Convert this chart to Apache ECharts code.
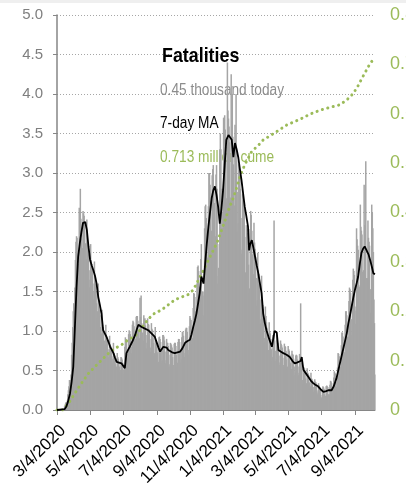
<!DOCTYPE html>
<html><head><meta charset="utf-8">
<script src="https://cdn.jsdelivr.net/npm/echarts@6/dist/echarts.min.js"></script>
<style>html,body{margin:0;padding:0;background:#fff}#c{width:406px;height:495px}</style>
</head><body><div id="c"></div>
<script>
// first day of the daily series (year, month, day)
const startDate = [2020, 3, 4];

// daily fatalities, thousands (one value per day, weeks start on Wednesday)
const daily = [
0,0,0,0,0,0,0.01,
0,0.01,0.01,0.01,0.01,0.01,0.02,
0.05,0.07,0.09,0.1,0.1,0.12,0.2,
0.25,0.3,0.38,0.38,0.35,0.45,0.7,
0.85,1.05,1.25,1.35,1.35,1.55,1.9,
2.13,2.2,2.18,1.98,1.73,1.85,2.56,
2.45,2.8,2.42,2.17,1.9,2.05,2.52,
2.49,2.46,2.36,2.11,1.81,1.91,2.41,
2.12,2.07,1.97,1.77,1.55,1.65,2.1,
1.9,1.85,1.78,1.6,1.4,1.5,1.88,
1.65,1.6,1.5,1.35,1.17,1.25,1.6,
1.32,1.27,1.2,1.05,0.92,0.97,1.27,
1.08,1.05,1.0,0.88,0.77,0.83,1.08,
0.94,0.92,0.88,0.77,0.67,0.72,0.94,
0.83,0.81,0.77,0.68,0.6,0.65,0.85,
0.72,0.69,0.66,0.58,0.5,0.55,0.72,
0.67,0.65,0.62,0.55,0.48,0.5,0.67,
0.66,0.64,0.6,0.51,0.46,0.52,0.8,
0.92,0.9,0.86,0.76,0.66,0.71,0.96,
1.01,1.0,0.96,0.85,0.72,0.8,1.08,
1.13,1.11,1.06,0.95,0.81,0.9,1.18,
1.19,1.19,1.13,1.01,0.84,0.91,1.42,
1.18,1.45,1.1,0.98,0.82,0.88,1.2,
1.15,1.16,1.07,0.95,0.78,0.85,1.16,
1.09,1.08,1.02,0.9,0.74,0.79,1.1,
1.03,1.01,0.95,0.85,0.69,0.72,1.05,
0.89,0.88,0.83,0.73,0.59,0.61,0.92,
0.93,0.9,0.86,0.75,0.6,0.63,0.95,
0.95,0.93,0.88,0.74,0.59,0.63,0.9,
0.85,0.85,0.81,0.7,0.55,0.58,0.85,
0.84,0.82,0.79,0.67,0.54,0.57,0.84,
0.85,0.85,0.81,0.7,0.55,0.6,0.86,
0.9,0.9,0.86,0.75,0.6,0.64,0.92,
0.99,0.99,0.94,0.83,0.67,0.72,1.02,
1.04,1.04,0.99,0.86,0.7,0.76,1.06,
1.19,1.16,1.14,1.0,0.84,0.91,1.29,
1.48,1.47,1.43,1.25,1.08,1.18,1.6,
1.81,1.83,1.76,1.56,1.33,1.46,1.91,
2.1,1.35,1.5,1.5,1.2,1.45,2.3,
2.58,2.6,2.43,2.25,1.78,1.93,2.58,
3.0,3.0,2.85,2.65,2.12,2.27,2.97,
3.05,3.1,2.83,2.62,2.12,2.2,2.98,
3.1,2.8,1.6,1.7,1.8,2.1,3.3,
3.5,3.3,2.3,2.8,2.3,2.5,3.7,
3.7,3.73,3.55,3.33,2.63,2.68,4.4,
3.79,3.69,3.59,3.39,2.69,2.64,4.25,
3.66,4.0,3.46,3.11,2.51,2.59,3.61,
3.31,4.0,3.16,2.76,2.26,2.36,3.11,
2.98,2.93,2.8,2.43,1.98,2.03,2.73,
2.74,2.64,2.54,2.19,1.74,1.74,2.34,
2.29,2.24,2.14,1.84,1.49,1.54,2.29,
2.52,2.47,2.27,1.97,1.62,1.72,2.37,
2.12,2.04,1.94,1.67,1.32,1.39,1.99,
1.77,1.72,1.62,1.4,1.1,1.15,1.7,
1.38,1.33,1.28,1.08,0.86,0.91,1.31,
1.19,1.11,1.04,0.89,0.71,0.76,1.11,
1.0,0.97,0.9,0.77,0.62,0.67,0.95,
0.95,2.4,0.88,0.75,0.62,0.65,0.95,
0.88,0.85,0.8,0.69,0.57,0.6,0.88,
0.84,0.82,0.79,0.66,0.54,0.57,0.84,
0.81,0.8,0.75,0.64,0.51,0.55,0.81,
0.77,0.75,0.7,0.6,0.48,0.52,0.75,
0.71,0.7,0.65,0.55,0.44,0.47,0.69,
0.7,0.69,0.64,0.55,0.44,0.47,0.71,
0.68,1.35,0.6,0.5,0.38,0.32,0.52,
0.54,0.53,0.5,0.4,0.32,0.34,0.53,
0.47,0.46,0.44,0.35,0.27,0.3,0.47,
0.4,0.39,0.37,0.29,0.23,0.25,0.39,
0.36,0.35,0.33,0.25,0.2,0.22,0.34,
0.31,0.29,0.27,0.19,0.15,0.16,0.27,
0.3,0.29,0.27,0.2,0.16,0.18,0.3,
0.31,0.3,0.29,0.2,0.17,0.2,0.32,
0.37,0.36,0.34,0.26,0.21,0.25,0.41,
0.49,0.47,0.46,0.36,0.29,0.35,0.54,
0.72,0.71,0.68,0.55,0.45,0.55,0.82,
0.98,0.98,0.93,0.73,0.61,0.73,1.08,
1.25,1.25,1.2,0.93,0.78,0.93,1.38,
1.55,1.53,1.48,1.15,0.95,1.15,1.65,
1.79,1.76,1.71,1.31,1.09,1.26,2.3,
2.16,2.08,2.03,1.58,1.31,1.56,2.6,
2.32,2.27,2.22,1.75,1.42,1.77,2.85,
2.34,2.27,3.15,1.67,1.37,1.67,2.4,
2.18,2.13,2.08,1.53,1.23,1.53,2.6,
2.5,2.3,2.0,1.4,1.1,0.45
];

// 7-day moving average, thousands (day number since start, value)
const maDay = [0,14,17,20,24,27,30,32,34,36,39,42,45,48,52,55,58,61,64,67,70,73,76,79,82,85,88,91,95,98,101,104,107,110,114,119,122,125,128,131,134,139,144,147,150,153,156,162,168,174,180,184,187,190,193,196,199,202,205,208,212,217,222,227,231,236,240,245,248,251,254,257,260,263,266,268,270,273,276,279,282,285,288,291,294,297,300,303,306,309,312,316,319,322,325,328,331,334,337,340,343,346,349,352,354,356,359,362,365,368,371,374,377,380,383,386,391,396,399,401,405,408,412,417,423,429,434,438,442,445,449,451,454,458,463,468,472,476,481,486,491,496,500,506,510,515,519,524,527,530,534,537,540,543,546,549,552,555,558,561,564,567,570,574,577,580,583,586];
const maValue = [0,0.01,0.04,0.1,0.21,0.36,0.55,0.88,1.22,1.55,1.94,2.11,2.25,2.37,2.38,2.28,2.07,1.9,1.83,1.77,1.7,1.6,1.43,1.33,1.22,1.01,0.97,0.93,0.86,0.8,0.76,0.72,0.66,0.61,0.6,0.59,0.57,0.53,0.72,0.76,0.8,0.87,0.95,1.02,1.08,1.06,1.05,1.03,1.01,0.97,0.93,0.85,0.79,0.74,0.76,0.8,0.82,0.79,0.76,0.74,0.73,0.72,0.73,0.74,0.78,0.85,0.87,0.89,0.96,1.05,1.13,1.22,1.35,1.48,1.69,1.65,1.6,1.85,2.1,2.32,2.5,2.68,2.78,2.83,2.72,2.57,2.36,2.55,2.78,3.1,3.42,3.48,3.46,3.42,3.2,3.38,3.3,3.2,3.05,2.91,2.74,2.57,2.45,2.32,2.02,2.1,2.15,2.05,1.94,1.83,1.73,1.6,1.48,1.22,1.1,1.01,0.9,0.8,0.82,1.0,0.98,0.76,0.74,0.72,0.7,0.67,0.62,0.59,0.6,0.61,0.62,0.67,0.51,0.47,0.42,0.37,0.34,0.32,0.3,0.26,0.23,0.24,0.25,0.25,0.3,0.4,0.52,0.67,0.76,0.85,0.97,1.1,1.2,1.31,1.42,1.52,1.6,1.69,1.85,1.99,2.04,2.07,2.05,1.97,1.9,1.82,1.73,1.72];

// cumulative fatalities, millions (day number since start, value)
const cumDay = [0,10,21,33,45,58,70,82,95,107,119,131,144,156,168,180,193,205,217,230,242,251,260,270,279,291,297,310,316,325,331,337,343,349,359,371,380,392,405,423,448,466,484,503,521,534,546,555,561,571,577,583,586];
const cumValue = [0,0,0.013,0.034,0.054,0.074,0.088,0.101,0.115,0.125,0.132,0.142,0.15,0.166,0.184,0.196,0.203,0.213,0.223,0.229,0.234,0.243,0.262,0.283,0.304,0.33,0.345,0.385,0.405,0.43,0.45,0.472,0.489,0.503,0.524,0.536,0.547,0.555,0.564,0.577,0.589,0.599,0.607,0.613,0.618,0.628,0.641,0.657,0.670,0.690,0.702,0.710,0.713];

const labelMonths = [1,3,5,7,9,11];
const labelDay = 4;

const categories = daily.map((_, i) => {
  const d = new Date(startDate[0], startDate[1] - 1, startDate[2] + i);
  return (d.getMonth() + 1) + '/' + d.getDate() + '/' + d.getFullYear();
});
function isLabel(i) {
  const p = categories[i].split('/');
  return +p[1] === labelDay && labelMonths.indexOf(+p[0]) >= 0;
}
const maData = maDay.map((d, k) => [d, maValue[k]]);
const cumData = cumDay.map((d, k) => [d, cumValue[k]]);

const chart = echarts.init(document.getElementById('c'), null, {renderer: 'canvas'});
const sans = '"Liberation Sans", Arial, sans-serif';
chart.setOption({
  animation: false,
  grid: {left: 57, right: 31, top: 15, bottom: 85, containLabel: false, outerBoundsMode: 'none'},
  xAxis: {
    type: 'category', data: categories, boundaryGap: false,
    axisLine: {lineStyle: {color: '#868686', width: 1}},
    axisTick: {interval: (i) => isLabel(i), length: 5, lineStyle: {color: '#868686'}},
    axisLabel: {interval: (i) => isLabel(i), rotate: 45, fontFamily: sans, fontSize: 17, color: '#000', margin: 12, verticalAlign: 'top'},
    splitLine: {show: false}
  },
  yAxis: [{
    type: 'value', min: 0, max: 5, interval: 0.5, position: 'left',
    axisLine: {show: true, lineStyle: {color: '#868686', width: 1.5}},
    axisTick: {show: true, length: 4, lineStyle: {color: '#868686'}},
    axisLabel: {formatter: v => v.toFixed(1), fontFamily: sans, fontSize: 15, color: '#7f7f7f', margin: 14},
    splitLine: {lineStyle: {type: [1, 2], color: '#a6a6a6'}}
  }, {
    type: 'value', min: 0, max: 0.8, interval: 0.1, position: 'right',
    axisLine: {show: false}, axisTick: {show: false}, splitLine: {show: false},
    axisLabel: {formatter: v => v === 0 ? '0' : v.toFixed(1), fontFamily: sans, fontSize: 18, color: '#9bbb59', margin: 15}
  }],
  series: [
    {type: 'bar', data: daily, barWidth: 1.5, itemStyle: {color: '#a5a5a5'}, large: false, z: 2},
    {type: 'line', data: cumData, yAxisIndex: 1, symbol: 'none', z: 3,
     lineStyle: {color: '#9bbb59', width: 3, type: [0.1, 5.5], cap: 'round'}},
    {type: 'line', data: maData, symbol: 'none', z: 4, lineStyle: {color: '#000', width: 1.8}}
  ],
  graphic: [
    {type: 'rect', shape: {x: 0, y: 0, width: 406, height: 3}, style: {fill: '#efefef'}, z: 0},
    {type: 'text', x: 162, y: 56, scaleX: 0.85, z: 1, style: {text: 'Fatalities', font: 'bold 21px ' + sans, fill: '#000', verticalAlign: 'middle'}},
    {type: 'text', x: 160, y: 91, scaleX: 0.855, z: 1, style: {text: '0.45 thousand today', font: '16px ' + sans, fill: '#8c8c8c', verticalAlign: 'middle'}},
    {type: 'text', x: 160, y: 124, scaleX: 0.855, z: 1, style: {text: '7-day MA', font: '16px ' + sans, fill: '#000', verticalAlign: 'middle'}},
    {type: 'text', x: 160, y: 158, scaleX: 0.855, z: 1, style: {text: '0.713 million cume', font: '16px ' + sans, fill: '#9bbb59', verticalAlign: 'middle'}}
  ]
});
</script></body></html>
